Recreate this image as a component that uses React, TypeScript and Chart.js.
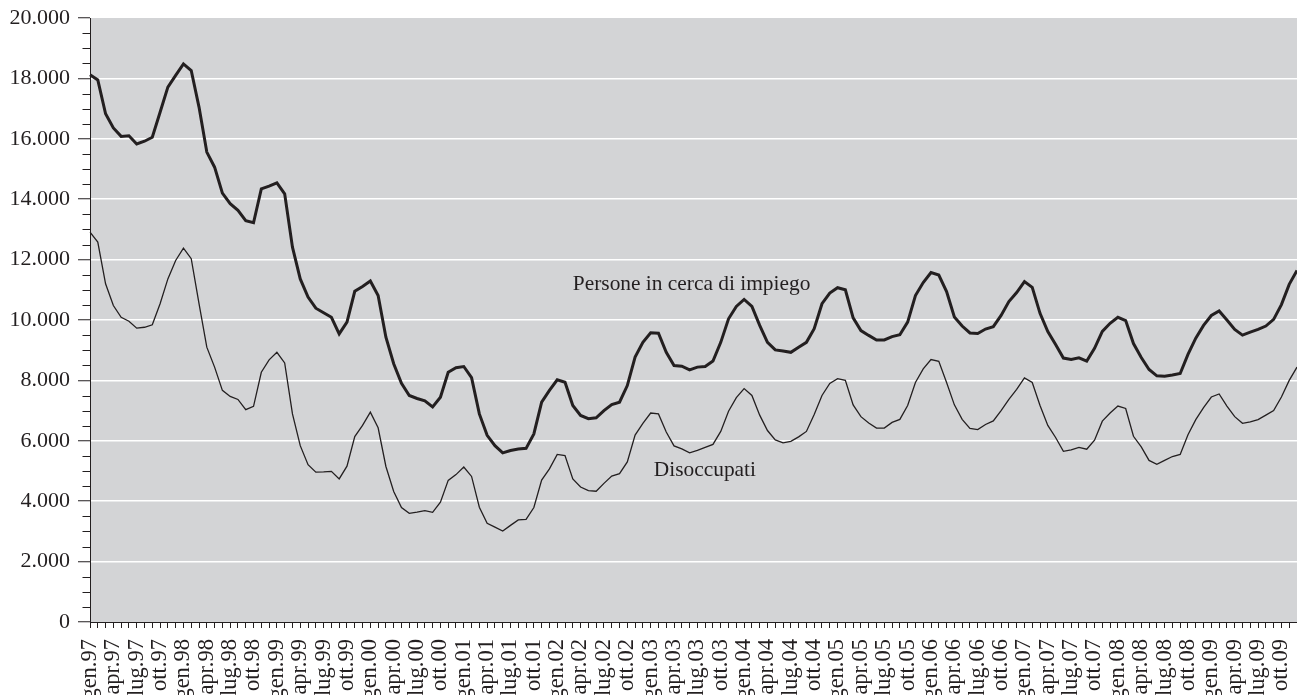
import React, { useEffect, useRef } from 'react';
import { Chart, registerables } from 'chart.js';

Chart.register(...registerables);

// ---- Data -------------------------------------------------------------
const MONTHS = ['gen', 'feb', 'mar', 'apr', 'mag', 'giu', 'lug', 'ago', 'set', 'ott', 'nov', 'dic'];
const YEARS = ['97', '98', '99', '00', '01', '02', '03', '04', '05', '06', '07', '08', '09'];
const CATEGORIES = YEARS.flatMap((y) => MONTHS.map((m) => `${m}.${y}`));
const LABEL_EVERY = 3;

// Persone in cerca di impiego (monthly, gen.97 - dic.09)
const PERSONE = [
  18120, 17950, 16830, 16360, 16080, 16100, 15830, 15920, 16050, 16880, 17710, 18100,
  18480, 18260, 17050, 15560, 15060, 14200, 13850, 13630, 13290, 13220, 14340, 14430,
  14540, 14180, 12410, 11360, 10760, 10390, 10240, 10090, 9540, 9930, 10950, 11110,
  11290, 10810, 9430, 8550, 7900, 7500, 7400, 7320, 7120, 7440, 8270, 8420,
  8460, 8090, 6890, 6180, 5840, 5600, 5680, 5730, 5750, 6230, 7280, 7670,
  8020, 7940, 7170, 6840, 6730, 6760, 7000, 7200, 7280, 7830, 8770, 9260,
  9580, 9560, 8930, 8490, 8470, 8350, 8440, 8460, 8640, 9260, 10040, 10450,
  10680, 10450, 9820, 9260, 9010, 8970, 8930, 9100, 9260, 9710, 10540, 10890,
  11070, 11000, 10070, 9650, 9490, 9340, 9340, 9450, 9510, 9930, 10810, 11240,
  11570, 11490, 10940, 10100, 9800, 9570, 9550, 9700, 9780, 10150, 10610, 10910,
  11270, 11080, 10220, 9620, 9190, 8740, 8690, 8750, 8640, 9060, 9620, 9890,
  10090, 9980, 9220, 8760, 8360, 8150, 8140, 8180, 8230, 8860, 9400, 9820,
  10150, 10300, 10000, 9690, 9500, 9600, 9690, 9800, 10020, 10510, 11180, 11640,
];

// Disoccupati (monthly, gen.97 - dic.09)
const DISOCCUPATI = [
  12910, 12580, 11200, 10480, 10090, 9960, 9730, 9760, 9840, 10540, 11360, 11970,
  12380, 12030, 10540, 9100, 8440, 7670, 7470, 7370, 7030, 7140, 8270, 8680,
  8930, 8580, 6890, 5840, 5210, 4960, 4970, 4990, 4740, 5160, 6140, 6510,
  6950, 6430, 5150, 4320, 3790, 3600, 3640, 3690, 3630, 3970, 4690, 4880,
  5130, 4820, 3800, 3270, 3140, 3010, 3200, 3380, 3400, 3790, 4700, 5070,
  5550, 5510, 4740, 4470, 4350, 4330, 4590, 4830, 4910, 5300, 6190, 6580,
  6920, 6890, 6290, 5830, 5730, 5600, 5680, 5780, 5880, 6310, 6980, 7430,
  7730, 7500, 6850, 6340, 6030, 5930, 5980, 6130, 6310, 6870, 7500, 7900,
  8060, 8000, 7190, 6800, 6590, 6420, 6420, 6610, 6710, 7170, 7930, 8380,
  8690, 8630, 7930, 7190, 6710, 6410, 6370, 6540, 6660, 7000, 7370, 7700,
  8080, 7930, 7170, 6510, 6110, 5650, 5700, 5780, 5720, 6020, 6650, 6920,
  7150, 7070, 6150, 5800, 5350, 5220, 5350, 5480, 5550, 6200, 6700, 7100,
  7450, 7550, 7150, 6800, 6580, 6630, 6700, 6850, 7000, 7450, 8000, 8440,
];

const Y_MIN = 0;
const Y_MAX = 20000;
const Y_MAJOR = 2000;
const Y_MINOR = 500;

// Text labels placed in data coordinates (category index, value)
const NOTE_TEXTS = ['Persone in cerca di impiego', 'Disoccupati'];
const NOTE_INDEX = [62.0, 72.4];
const NOTE_VALUE = [11000, 4820];

// ---- Styles -----------------------------------------------------------
const INK = '#231f20';
const PLOT_BG = '#d3d4d6';
const FONT = '"Liberation Serif", "Times New Roman", serif';
const Y_TICK_SIZE = 22;
const X_TICK_SIZE = 22.5;
const NOTE_SIZE = 21.4;

function fmtIt(v: number): string {
  if (v === 0) return '0';
  const th = Math.floor(v / 1000);
  const rest = String(v % 1000).padStart(3, '0');
  return `${th}.${rest}`;
}

export default function App() {
  const ref = useRef<HTMLCanvasElement>(null);

  useEffect(() => {
    const canvas = ref.current;
    if (!canvas) return;

    const bgPlugin = {
      id: 'plotBg',
      beforeDraw(chart: any) {
        const { ctx, chartArea: a } = chart;
        ctx.save();
        ctx.fillStyle = PLOT_BG;
        ctx.fillRect(a.left, a.top, a.right - a.left, a.bottom - a.top);
        ctx.restore();
      },
    };

    const minorTicksPlugin = {
      id: 'minorTicks',
      afterDraw(chart: any) {
        const { ctx, chartArea: a } = chart;
        const ys = chart.scales.y;
        ctx.save();
        ctx.strokeStyle = INK;
        ctx.lineWidth = 1;
        for (let v = Y_MIN; v <= Y_MAX; v += Y_MINOR) {
          if (v % Y_MAJOR === 0) continue;
          const py = Math.round(ys.getPixelForValue(v)) + 0.5;
          ctx.beginPath();
          ctx.moveTo(a.left - 7.5, py);
          ctx.lineTo(a.left, py);
          ctx.stroke();
        }
        ctx.restore();
      },
    };

    const notesPlugin = {
      id: 'notes',
      afterDatasetsDraw(chart: any) {
        const { ctx } = chart;
        const xs = chart.scales.x;
        const ys = chart.scales.y;
        ctx.save();
        ctx.fillStyle = INK;
        ctx.font = `${NOTE_SIZE}px ${FONT}`;
        ctx.textAlign = 'left';
        ctx.textBaseline = 'alphabetic';
        NOTE_TEXTS.forEach((t, i) => {
          ctx.fillText(t, xs.getPixelForValue(NOTE_INDEX[i]), ys.getPixelForValue(NOTE_VALUE[i]));
        });
        ctx.restore();
      },
    };

    const chart = new Chart(canvas, {
      type: 'line',
      data: {
        labels: CATEGORIES,
        datasets: [
          {
            label: 'Persone in cerca di impiego',
            data: PERSONE,
            borderColor: INK,
            borderWidth: 3,
            pointRadius: 0,
            tension: 0,
            fill: false,
          },
          {
            label: 'Disoccupati',
            data: DISOCCUPATI,
            borderColor: INK,
            borderWidth: 1.3,
            pointRadius: 0,
            tension: 0,
            fill: false,
          },
        ],
      },
      options: {
        animation: false,
        responsive: false,
        devicePixelRatio: 1,
        layout: { padding: { top: 18, left: 0, right: 0, bottom: 0 } },
        plugins: {
          legend: { display: false },
          tooltip: { enabled: false },
        },
        scales: {
          x: {
            type: 'category',
            offset: false,
            grid: {
              display: true,
              drawOnChartArea: false,
              drawTicks: true,
              tickLength: 6,
              tickColor: INK,
              tickWidth: 1,
            },
            border: { display: true, color: INK, width: 1 },
            ticks: {
              autoSkip: false,
              maxRotation: 90,
              minRotation: 90,
              padding: 11,
              color: INK,
              font: { family: FONT, size: X_TICK_SIZE },
              callback: (_v: any, idx: number) => (idx % LABEL_EVERY === 0 ? CATEGORIES[idx] : ''),
            },
            afterFit: (s: any) => {
              s.height = 73;
              s.paddingLeft = 0;
              s.paddingRight = 0;
            },
          },
          y: {
            type: 'linear',
            min: Y_MIN,
            max: Y_MAX,
            grid: {
              display: true,
              drawOnChartArea: true,
              drawTicks: true,
              tickLength: 12,
              lineWidth: 1.5,
              color: (c: any) => {
                const v = c.tick ? c.tick.value : 0;
                return v % Y_MAJOR === 0 && v > Y_MIN && v < Y_MAX ? '#ffffff' : 'rgba(0,0,0,0)';
              },
              tickColor: (c: any) => {
                const v = c.tick ? c.tick.value : 0;
                return v % Y_MAJOR === 0 ? INK : 'rgba(0,0,0,0)';
              },
              tickWidth: 1,
            },
            border: { display: true, color: INK, width: 1 },
            ticks: {
              stepSize: Y_MINOR,
              autoSkip: false,
              padding: 8,
              color: INK,
              font: { family: FONT, size: Y_TICK_SIZE },
              callback: (v: any) => (Number(v) % Y_MAJOR === 0 ? fmtIt(Number(v)) : ''),
            },
            afterFit: (s: any) => {
              s.width = 90;
              s.paddingTop = 0;
              s.paddingBottom = 0;
            },
          },
        },
      },
      plugins: [bgPlugin, minorTicksPlugin, notesPlugin],
    });

    return () => {
      chart.destroy();
    };
  }, []);

  return (
    <div
      style={{
        position: 'fixed',
        left: 0,
        top: 0,
        width: 1297,
        height: 695,
        overflow: 'hidden',
        background: '#ffffff',
      }}
    >
      <canvas ref={ref} width={1297} height={695} style={{ display: 'block', width: 1297, height: 695 }} />
    </div>
  );
}
